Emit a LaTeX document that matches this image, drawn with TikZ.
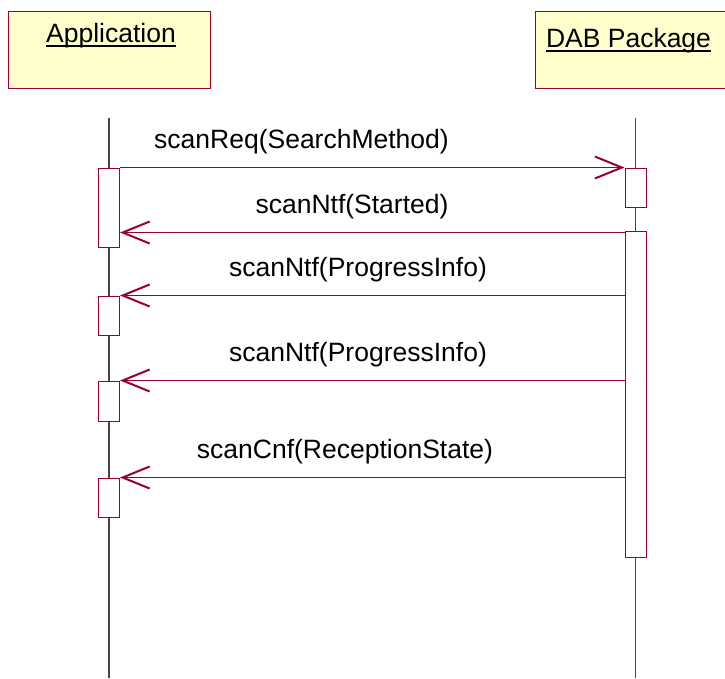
\documentclass[tikz,border=0pt]{standalone}
\usepackage{fontspec}
\setmainfont{Liberation Sans}
\usetikzlibrary{arrows.meta}
\definecolor{umlred}{RGB}{153,0,51}
\definecolor{umlnote}{RGB}{255,255,204}
\definecolor{lifegray}{RGB}{70,70,70}
\begin{document}
\begin{tikzpicture}[x=1pt, y=-1pt,
    object/.style = {draw=umlred, fill=umlnote, line width=1pt, minimum height=77pt, inner sep=0pt},
    act/.style = {draw=umlred, fill=white, line width=1pt, minimum width=21pt, inner sep=0pt},
    msg/.style = {draw=umlred, line width=1pt, -{Straight Barb[length=27pt, width=22pt, line width=2pt]}},
    txt/.style = {font=\fontsize{26.5}{30}\selectfont, inner sep=0pt, anchor=base}]
    \tikzstyle{life line}=[lifegray, line width=1.2pt]
    \useasboundingbox (0,0) rectangle (725,678);
    \clip (0,0) rectangle (725,678);
    \node (app) at (109,49.5) [object, minimum width=202pt] {};
    \node (dab) at (635,49.5) [object, minimum width=200pt] {};
    \node (appName) at (111,42) [txt] {Application};
    \node (dabName) at (628.5,47) [txt] {DAB Package};
    \draw[line width=1.5pt] ([yshift=-4pt]appName.base west) -- ([yshift=-4pt]appName.base east);
    \draw[line width=1.5pt] ([yshift=-4pt]dabName.base west) -- ([yshift=-4pt]dabName.base east);
    \coordinate (appTop) at (109,118);
    \coordinate (appEnd) at (109,678);
    \coordinate (dabTop) at (635.5,118);
    \coordinate (dabEnd) at (635.5,678);
    \draw[life line] (appTop) -- (appEnd);
    \draw[life line] (dabTop) -- (dabEnd);
    \node (appAct1) at (109,207.5) [act, minimum height=79pt] {};
    \node (appAct2) at (109,315.5) [act, minimum height=39pt] {};
    \node (appAct3) at (109,401) [act, minimum height=40pt] {};
    \node (appAct4) at (109,497.5) [act, minimum height=39pt] {};
    \node (dabAct1) at (635.5,187.5) [act, minimum height=39pt] {};
    \node (dabAct2) at (635.5,394) [act, minimum height=326pt] {};
    \draw[msg] (appAct1.north east) -- (dabAct1.north west);
    \draw[msg] ([yshift=-2pt]dabAct2.north west) -- ([yshift=-2pt]dabAct2.north west -| appAct1.east);
    \draw[msg] (dabAct2.west |- appAct2.north) -- (appAct2.north east);
    \draw[msg] (dabAct2.west |- appAct3.north) -- (appAct3.north east);
    \draw[msg] (dabAct2.west |- appAct4.north) -- (appAct4.north east);
    \node (reqLbl) at (301.5,148) [txt] {scanReq(SearchMethod)};
    \node (startLbl) at (352,213) [txt] {scanNtf(Started)};
    \node (prog1Lbl) at (358,276) [txt] {scanNtf(ProgressInfo)};
    \node (prog2Lbl) at (358,361) [txt] {scanNtf(ProgressInfo)};
    \node (cnfLbl) at (345,458) [txt] {scanCnf(ReceptionState)};
\end{tikzpicture}
\end{document}
